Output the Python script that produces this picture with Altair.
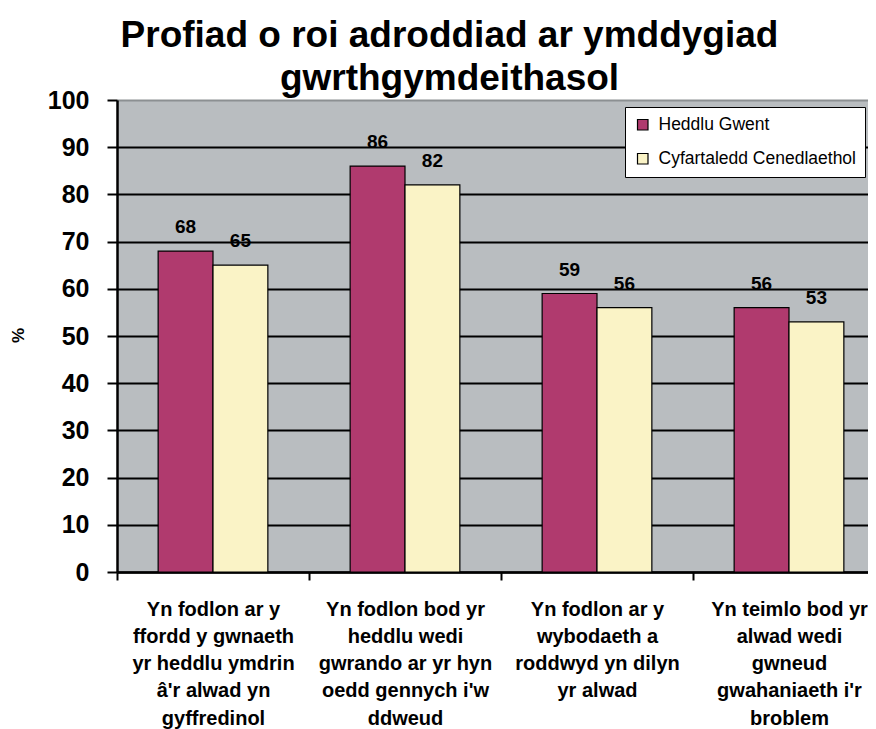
import altair as alt
import pandas as pd

categories = [
    "Yn fodlon ar y|ffordd y gwnaeth|yr heddlu ymdrin|â'r alwad yn|gyffredinol",
    "Yn fodlon bod yr|heddlu wedi|gwrando ar yr hyn|oedd gennych i'w|ddweud",
    "Yn fodlon ar y|wybodaeth a|roddwyd yn dilyn|yr alwad",
    "Yn teimlo bod yr|alwad wedi|gwneud|gwahaniaeth i'r|broblem",
]
series = ["Heddlu Gwent", "Cyfartaledd Cenedlaethol"]
gwent = [68, 86, 59, 56]
national = [65, 82, 56, 53]
colors = ["#B03A6E", "#FAF3C6"]

rows = []
for i, c in enumerate(categories):
    rows.append({"cat": c, "series": series[0], "value": gwent[i]})
    rows.append({"cat": c, "series": series[1], "value": national[i]})
df = pd.DataFrame(rows)

FONT = "Liberation Sans"

x = alt.X("cat:N", sort=categories, title=None,
          scale=alt.Scale(paddingInner=0, paddingOuter=0, range=[0, 768]),
          axis=alt.Axis(labelAngle=0, labelExpr="split(datum.label, '|')",
                        labelFont=FONT, labelFontSize=20, labelFontWeight="bold",
                        labelColor="black", labelLineHeight=27.3, labelPadding=19,
                        labelBaseline="top", labelLimit=300,
                        tickBand="extent", tickSize=8, tickColor="black", tickWidth=2,
                        domainColor="black", domainWidth=2.5, grid=False))
xo = alt.XOffset("series:N", sort=series,
                 scale=alt.Scale(paddingInner=0, paddingOuter=0.75))
y = alt.Y("value:Q", title="%",
          scale=alt.Scale(domain=[0, 100], nice=False),
          axis=alt.Axis(values=list(range(0, 101, 10)), labelFont=FONT, labelFontSize=25,
                        labelFontWeight="bold", labelColor="black", labelPadding=18,
                        tickSize=10, tickColor="black", tickWidth=2,
                        domainColor="black", domainWidth=2.5,
                        gridColor=alt.condition(alt.datum.value == 100, alt.value("#8C9092"), alt.value("black")),
                        gridWidth=2,
                        titleFont=FONT, titleFontSize=17, titleFontWeight="bold", titleColor="black",
                        titleAngle=-90, titleX=-99, titleY=235, titleAlign="center", titleBaseline="middle"))

color = alt.Color("series:N", sort=series, title=None,
                  scale=alt.Scale(domain=series, range=colors),
                  legend=alt.Legend(orient="none", legendX=508, legendY=7,
                                    fillColor="white", strokeColor="black", padding=9,
                                    labelFont=FONT, labelFontSize=17.5, labelColor="black",
                                    labelLimit=400,
                                    symbolType="square", symbolSize=110,
                                    symbolStrokeColor="black", symbolStrokeWidth=1.2,
                                    rowPadding=15, labelOffset=7, cornerRadius=0))

bars = alt.Chart(df).mark_bar(stroke="black", strokeWidth=1.2).encode(
    x=x, xOffset=xo, y=y, color=color)

labels = alt.Chart(df).mark_text(font=FONT, fontSize=19, fontWeight="bold",
                                 color="black", baseline="bottom", dy=-14).encode(
    x=alt.X("cat:N", sort=categories), xOffset=alt.XOffset("series:N", sort=series),
    y="value:Q", text="value:Q")

chart = alt.layer(bars, labels).properties(
    width=751, height=472,
    background="white",
    autosize=alt.AutoSizeParams(type="none"),
    padding={"left": 109, "top": 92, "right": 0, "bottom": 157},
    title=alt.TitleParams(text=["Profiad o roi adroddiad ar ymddygiad", "gwrthgymdeithasol"],
                          font=FONT, fontSize=37, fontWeight="bold", color="black",
                          anchor="middle", dx=-43, lineHeight=43, offset=-10),
).configure_view(fill="#B9BDC0", strokeWidth=0)

chart.save("out.html", embed_options={"renderer": "svg", "actions": False})
